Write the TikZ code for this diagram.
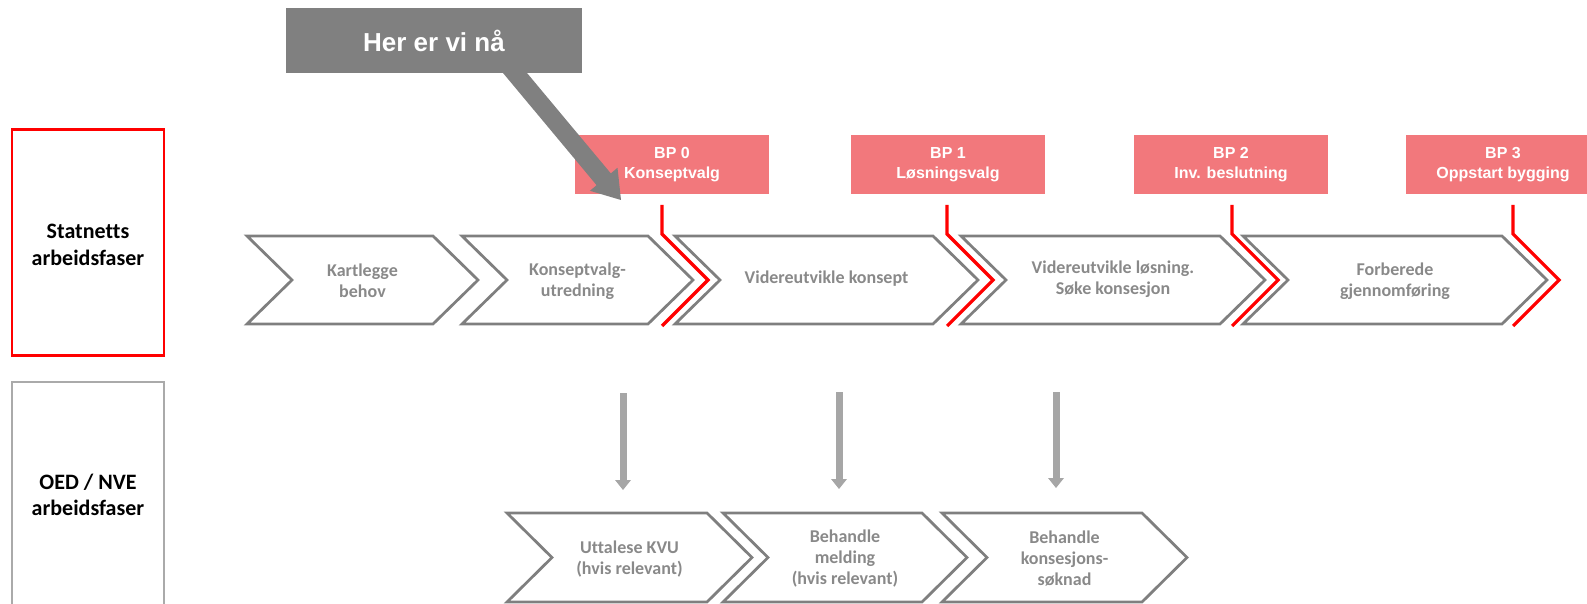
\documentclass[tikz,border=0pt]{standalone}
\usepackage{fontspec}
\setmainfont{Carlito}[Ligatures=NoCommon]
\newfontfamily\arialfont{Liberation Sans}
\usetikzlibrary{arrows.meta}

\definecolor{fasegra}{RGB}{127,127,127}
\definecolor{tekstgra}{RGB}{137,137,137}
\definecolor{bprod}{RGB}{242,120,124}
\definecolor{naagra}{RGB}{128,128,128}
\definecolor{pilgra}{RGB}{166,166,166}
\definecolor{rammegra}{RGB}{170,170,170}

\newlength{\du}
\setlength{\du}{1pt}

\tikzset{
  fase/.style={draw=fasegra, line width=2.75\du, line join=miter},
  fasetekst/.style={text=tekstgra, font=\bfseries\fontsize{18}{21}\selectfont, align=center, inner sep=0pt},
  bpboks/.style={fill=bprod, text=white, font=\arialfont\bfseries\fontsize{16}{19.5}\selectfont, align=center, minimum width=194\du, minimum height=59\du, inner sep=0pt},
  naaboks/.style={fill=naagra, text=white, font=\arialfont\bfseries\fontsize{26}{30}\selectfont, minimum width=296\du, minimum height=65\du, inner sep=0pt},
  milepel/.style={draw=red, line width=3.2\du},
  nedpil/.style={draw=pilgra, line width=7\du, -{Triangle[length=10pt,width=16pt,line width=0pt]}},
  rammetekst/.style={text=black, font=\bfseries\fontsize{22}{26.5}\selectfont, align=center, inner sep=0pt}
}

\begin{document}
\begin{tikzpicture}
\pgftransformxscale{1.000000}
\pgftransformyscale{-1.000000}
\useasboundingbox (0\du,0\du) rectangle (1587\du,604\du);

% venstre kolonne
\node[draw=red, line width=2.5\du, minimum width=152\du, minimum height=226\du, inner sep=0pt] (statnett) at (88\du,242.5\du) {};
\node[rammetekst] (statnetttekst) at (88\du,245\du) {Statnetts\\arbeidsfaser};
\draw[draw=rammegra, line width=2.75\du] (12\du,610\du)--(12\du,382\du)--(164\du,382\du)--(164\du,610\du);
\node[rammetekst] (oednve) at (88\du,495\du) {OED / NVE\\arbeidsfaser};

% Statnetts faser
\draw[fase] (247\du,236\du)--(433\du,236\du)--(478\du,280\du)--(433\du,324\du)--(247\du,324\du)--(292\du,280\du)--cycle;
\node[fasetekst] (kartlegge) at (362.5\du,281\du) {Kartlegge\\behov};
\draw[fase] (462\du,236\du)--(648\du,236\du)--(693\du,280\du)--(648\du,324\du)--(462\du,324\du)--(507\du,280\du)--cycle;
\node[fasetekst] (kvu) at (577.5\du,281\du) {Konseptvalg-\\utredning};
\draw[fase] (675\du,236\du)--(933\du,236\du)--(978\du,280\du)--(933\du,324\du)--(675\du,324\du)--(720\du,280\du)--cycle;
\node[fasetekst] (konsept) at (826.5\du,279\du) {Videreutvikle konsept};
\draw[fase] (961\du,236\du)--(1220\du,236\du)--(1265\du,280\du)--(1220\du,324\du)--(961\du,324\du)--(1006\du,280\du)--cycle;
\node[fasetekst] (losning) at (1113\du,279\du) {Videreutvikle løsning.\\Søke konsesjon};
\draw[fase] (1243\du,236\du)--(1502\du,236\du)--(1547\du,280\du)--(1502\du,324\du)--(1243\du,324\du)--(1288\du,280\du)--cycle;
\node[fasetekst] (forberede) at (1395\du,281\du) {Forberede\\gjennomføring};

% beslutningspunkter
\node[bpboks] (bp0) at (672\du,164.5\du) {BP 0\\Konseptvalg};
\node[bpboks] (bp1) at (948\du,164.5\du) {BP 1\\Løsningsvalg};
\node[bpboks] (bp2) at (1231\du,164.5\du) {BP 2\\Inv. beslutning};
\node[bpboks] (bp3) at (1503\du,164.5\du) {BP 3\\Oppstart bygging};
\draw[milepel] (662\du,205\du)--(662\du,234\du)--(708\du,280\du)--(662\du,326\du);
\draw[milepel] (947\du,205\du)--(947\du,234\du)--(993\du,280\du)--(947\du,326\du);
\draw[milepel] (1232\du,205\du)--(1232\du,234\du)--(1278\du,280\du)--(1232\du,326\du);
\draw[milepel] (1513\du,205\du)--(1513\du,234\du)--(1559\du,280\du)--(1513\du,326\du);

% her er vi
\node[naaboks] (herervi) at (434\du,40.5\du) {Her er vi nå};
\coordinate (naa) at (621\du,200\du);
\fill[naagra] (503\du,73\du)--(527\du,73\du)--(610.8\du,173.4\du)--(617.5\du,167.8\du)--(naa)--(589.9\du,190.8\du)--(596.6\du,185.2\du)--cycle;

% OED / NVE faser
\coordinate (p1a) at (623\du,393\du);
\coordinate (p1b) at (623\du,490\du);
\coordinate (p2a) at (839\du,392\du);
\coordinate (p2b) at (839\du,489\du);
\coordinate (p3a) at (1056\du,392\du);
\coordinate (p3b) at (1056\du,488\du);
\draw[nedpil] (p1a)--(p1b);
\draw[nedpil] (p2a)--(p2b);
\draw[nedpil] (p3a)--(p3b);
\draw[fase] (507\du,513\du)--(707\du,513\du)--(752\du,557.5\du)--(707\du,602\du)--(507\du,602\du)--(552\du,557.5\du)--cycle;
\node[fasetekst] (uttalese) at (629.5\du,559\du) {Uttalese KVU\\(hvis relevant)};
\draw[fase] (723\du,513\du)--(922\du,513\du)--(967\du,557.5\du)--(922\du,602\du)--(723\du,602\du)--(768\du,557.5\du)--cycle;
\node[fasetekst] (melding) at (845\du,559\du) {Behandle\\melding\\(hvis relevant)};
\draw[fase] (942\du,513\du)--(1142\du,513\du)--(1187\du,557.5\du)--(1142\du,602\du)--(942\du,602\du)--(987\du,557.5\du)--cycle;
\node[fasetekst] (konsesjon) at (1064.5\du,559\du) {Behandle\\konsesjons-\\søknad};
\end{tikzpicture}
\end{document}
